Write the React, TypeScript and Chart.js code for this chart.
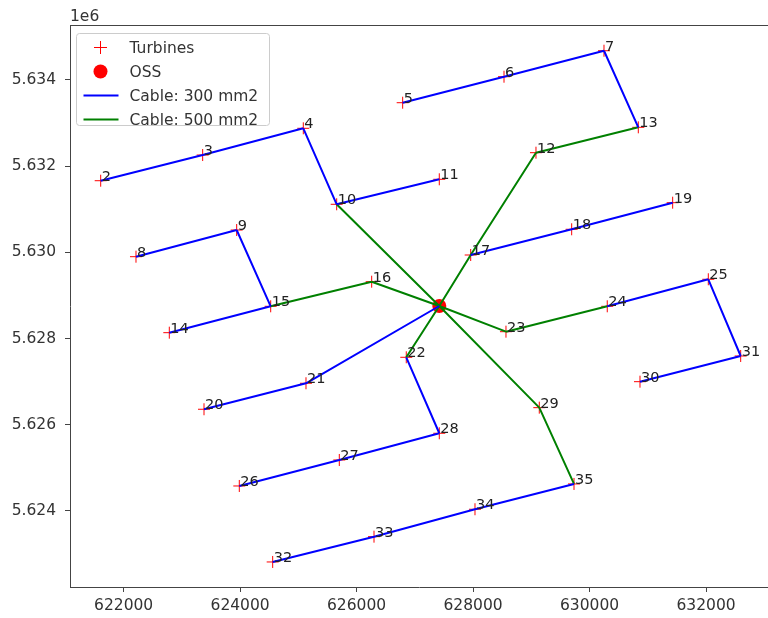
import React, { useEffect, useRef } from "react";
import { Chart, registerables } from "chart.js";

Chart.register(...registerables);

// ---- data (UTM coordinates) ----
const turbineIds = [2, 3, 4, 5, 6, 7, 8, 9, 10, 11, 12, 13, 14, 15, 16, 17, 18, 19, 20, 21, 22, 23, 24, 25, 26, 27, 28, 29, 30, 31, 32, 33, 34, 35];
const turbineX = [621606, 623357, 625085, 626791, 628531, 630248, 622212, 623941, 625658, 627420, 629080, 630837, 622784, 624525, 626259, 627959, 629693, 631427, 623380, 625131, 626853, 628565, 630304, 632039, 623986, 625703, 627420, 629137, 630866, 632595, 624559, 626299, 628033, 629733];
const turbineY = [5631662, 5632258, 5632878, 5633472, 5634075, 5634678, 5629899, 5630518, 5631115, 5631695, 5632312, 5632901, 5628136, 5628748, 5629319, 5629938, 5630535, 5631152, 5626359, 5626962, 5627565, 5628159, 5628748, 5629375, 5624579, 5625182, 5625802, 5626396, 5626999, 5627595, 5622816, 5623403, 5624039, 5624626];
const ossX = [627420];
const ossY = [5628755];

const cable300Links: [number | string, number | string][] = [
  [2, 3], [3, 4], [4, 10], [10, 11], [5, 6], [6, 7], [7, 13], [8, 9], [9, 15], [15, 14],
  [17, 18], [18, 19], [20, 21], [21, "OSS"], [22, 28], [28, 27], [27, 26], [24, 25], [25, 31], [31, 30],
  [32, 33], [33, 34], [34, 35],
];
const cable500Links: [number | string, number | string][] = [
  [10, "OSS"], [12, 13], [12, 17], [17, "OSS"], [15, 16], [16, "OSS"], [22, "OSS"], [23, "OSS"], [23, 24], [29, "OSS"], [29, 35],
];

const xTicks = [622000, 624000, 626000, 628000, 630000, 632000];
const yTicks = [5624000, 5626000, 5628000, 5630000, 5632000, 5634000];
const xMin = 621079;
const xMax = 633064;
const yMin = 5622235;
const yMax = 5635275;

const FONT = "DejaVu Sans";
const TEXT = "#333333";
const AXIS = "#444444";

function nodePos(id: number | string) {
  if (id === "OSS") return { x: ossX[0], y: ossY[0] };
  const i = turbineIds.indexOf(id as number);
  return { x: turbineX[i], y: turbineY[i] };
}

function linksToData(links: [number | string, number | string][]) {
  const out: any[] = [];
  links.forEach(([a, b]) => {
    const p = nodePos(a);
    const q = nodePos(b);
    out.push({ x: p.x, y: p.y });
    out.push({ x: q.x, y: q.y });
    out.push({ x: q.x, y: null });
  });
  return out;
}

const labelsPlugin = {
  id: "turbineLabels",
  afterDatasetsDraw(chart: any) {
    const ctx = chart.ctx;
    const xs = chart.scales.x;
    const ys = chart.scales.y;
    ctx.save();
    ctx.font = `14.5px "${FONT}"`;
    ctx.fillStyle = "#222222";
    ctx.textAlign = "left";
    ctx.textBaseline = "alphabetic";
    turbineIds.forEach((id, i) => {
      const px = xs.getPixelForValue(turbineX[i]);
      const py = ys.getPixelForValue(turbineY[i]);
      ctx.fillText(String(id), px + 1, py);
    });
    ctx.restore();
  },
};

const framePlugin = {
  id: "frameAndOffset",
  afterDraw(chart: any) {
    const ctx = chart.ctx;
    const a = chart.chartArea;
    ctx.save();
    ctx.strokeStyle = AXIS;
    ctx.lineWidth = 1;
    ctx.beginPath();
    ctx.moveTo(a.left, a.top + 0.5);
    ctx.lineTo(a.right, a.top + 0.5);
    ctx.stroke();
    ctx.font = `15.5px "${FONT}"`;
    ctx.fillStyle = TEXT;
    ctx.textAlign = "left";
    ctx.textBaseline = "alphabetic";
    ctx.fillText("1e6", a.left, 21);
    ctx.restore();
  },
};

const legendPlugin = {
  id: "boxLegend",
  afterDraw(chart: any) {
    const ctx = chart.ctx;
    const a = chart.chartArea;
    const ds = chart.data.datasets;
    const orderLabels = ["Turbines", "OSS", "Cable: 300 mm2", "Cable: 500 mm2"];
    const bx = a.left + 6.5;
    const by = a.top + 8.5;
    const bw = 193;
    const bh = 92;
    ctx.save();
    ctx.beginPath();
    (ctx as any).roundRect(bx, by, bw, bh, 3);
    ctx.fillStyle = "rgba(255,255,255,0.85)";
    ctx.fill();
    ctx.strokeStyle = "#cccccc";
    ctx.lineWidth = 1;
    ctx.stroke();
    ctx.font = `15.5px "${FONT}"`;
    ctx.textAlign = "left";
    ctx.textBaseline = "middle";
    orderLabels.forEach((lab, k) => {
      const d = ds.find((q: any) => q.label === lab);
      const cy = by + 14 + k * 24;
      const hx = bx + 24;
      if (lab === "Turbines") {
        ctx.strokeStyle = d.borderColor;
        ctx.lineWidth = 1;
        ctx.beginPath();
        ctx.moveTo(hx - 6.5, cy);
        ctx.lineTo(hx + 6.5, cy);
        ctx.moveTo(hx, cy - 6.5);
        ctx.lineTo(hx, cy + 6.5);
        ctx.stroke();
      } else if (lab === "OSS") {
        ctx.fillStyle = d.backgroundColor;
        ctx.beginPath();
        ctx.arc(hx, cy, 7, 0, Math.PI * 2);
        ctx.fill();
      } else {
        ctx.strokeStyle = d.borderColor;
        ctx.lineWidth = 2;
        ctx.beginPath();
        ctx.moveTo(hx - 17, cy);
        ctx.lineTo(hx + 18, cy);
        ctx.stroke();
      }
      ctx.fillStyle = TEXT;
      ctx.fillText(lab, bx + 53, cy + 1);
    });
    ctx.restore();
  },
};

export default function App() {
  const ref = useRef<HTMLCanvasElement | null>(null);

  useEffect(() => {
    if (!ref.current) return;
    const turbines = turbineX.map((x, i) => ({ x, y: turbineY[i] }));
    const oss = ossX.map((x, i) => ({ x, y: ossY[i] }));
    const chart = new Chart(ref.current, {
      type: "scatter",
      data: {
        datasets: [
          {
            label: "Turbines",
            data: turbines,
            pointStyle: "cross",
            pointRadius: 6,
            pointBorderWidth: 1,
            borderColor: "#ff0000",
            backgroundColor: "#ff0000",
            showLine: false,
            order: 2,
          },
          {
            label: "OSS",
            data: oss,
            pointStyle: "circle",
            pointRadius: 7,
            pointBorderWidth: 0,
            borderColor: "#ff0000",
            backgroundColor: "#ff0000",
            showLine: false,
            order: 1,
          },
          {
            label: "Cable: 300 mm2",
            data: linksToData(cable300Links),
            showLine: true,
            spanGaps: false,
            borderColor: "#0000ff",
            backgroundColor: "#0000ff",
            borderWidth: 2,
            pointRadius: 0,
            order: 0,
          },
          {
            label: "Cable: 500 mm2",
            data: linksToData(cable500Links),
            showLine: true,
            spanGaps: false,
            borderColor: "#008000",
            backgroundColor: "#008000",
            borderWidth: 2,
            pointRadius: 0,
            order: 0,
          },
        ] as any,
      },
      options: {
        animation: false,
        responsive: false,
        events: [],
        layout: { autoPadding: false, padding: { left: 0, top: 25, right: 0, bottom: 0 } },
        plugins: {
          legend: { display: false },
          tooltip: { enabled: false },
        },
        scales: {
          x: {
            type: "linear",
            min: xMin,
            max: xMax,
            afterBuildTicks: (axis: any) => {
              axis.ticks = xTicks.map((v) => ({ value: v }));
            },
            afterFit: (axis: any) => {
              axis.height = 31;
              axis.paddingLeft = 0;
              axis.paddingRight = 0;
            },
            ticks: {
              autoSkip: false,
              maxRotation: 0,
              padding: 5,
              color: TEXT,
              font: { family: FONT, size: 15.5 },
              callback: (v: any) => String(v),
            },
            grid: { drawOnChartArea: false, drawTicks: true, tickLength: 5, color: AXIS },
            border: { display: true, color: AXIS, width: 1 },
          },
          y: {
            type: "linear",
            min: yMin,
            max: yMax,
            afterBuildTicks: (axis: any) => {
              axis.ticks = yTicks.map((v) => ({ value: v }));
            },
            afterFit: (axis: any) => {
              axis.width = 70;
              axis.paddingTop = 0;
              axis.paddingBottom = 0;
            },
            ticks: {
              autoSkip: false,
              padding: 9,
              color: TEXT,
              font: { family: FONT, size: 15.5 },
              callback: (v: any) => (Number(v) / 1e6).toFixed(3),
            },
            grid: { drawOnChartArea: false, drawTicks: true, tickLength: 5, color: AXIS },
            border: { display: true, color: AXIS, width: 1 },
          },
        },
      } as any,
      plugins: [labelsPlugin, framePlugin, legendPlugin],
    });
    return () => chart.destroy();
  }, []);

  return (
    <div style={{ position: "absolute", left: 0, top: 0, width: 768, height: 618, background: "#ffffff", overflow: "hidden" }}>
      <canvas ref={ref} width={768} height={618} style={{ display: "block", width: 768, height: 618 }} />
    </div>
  );
}
